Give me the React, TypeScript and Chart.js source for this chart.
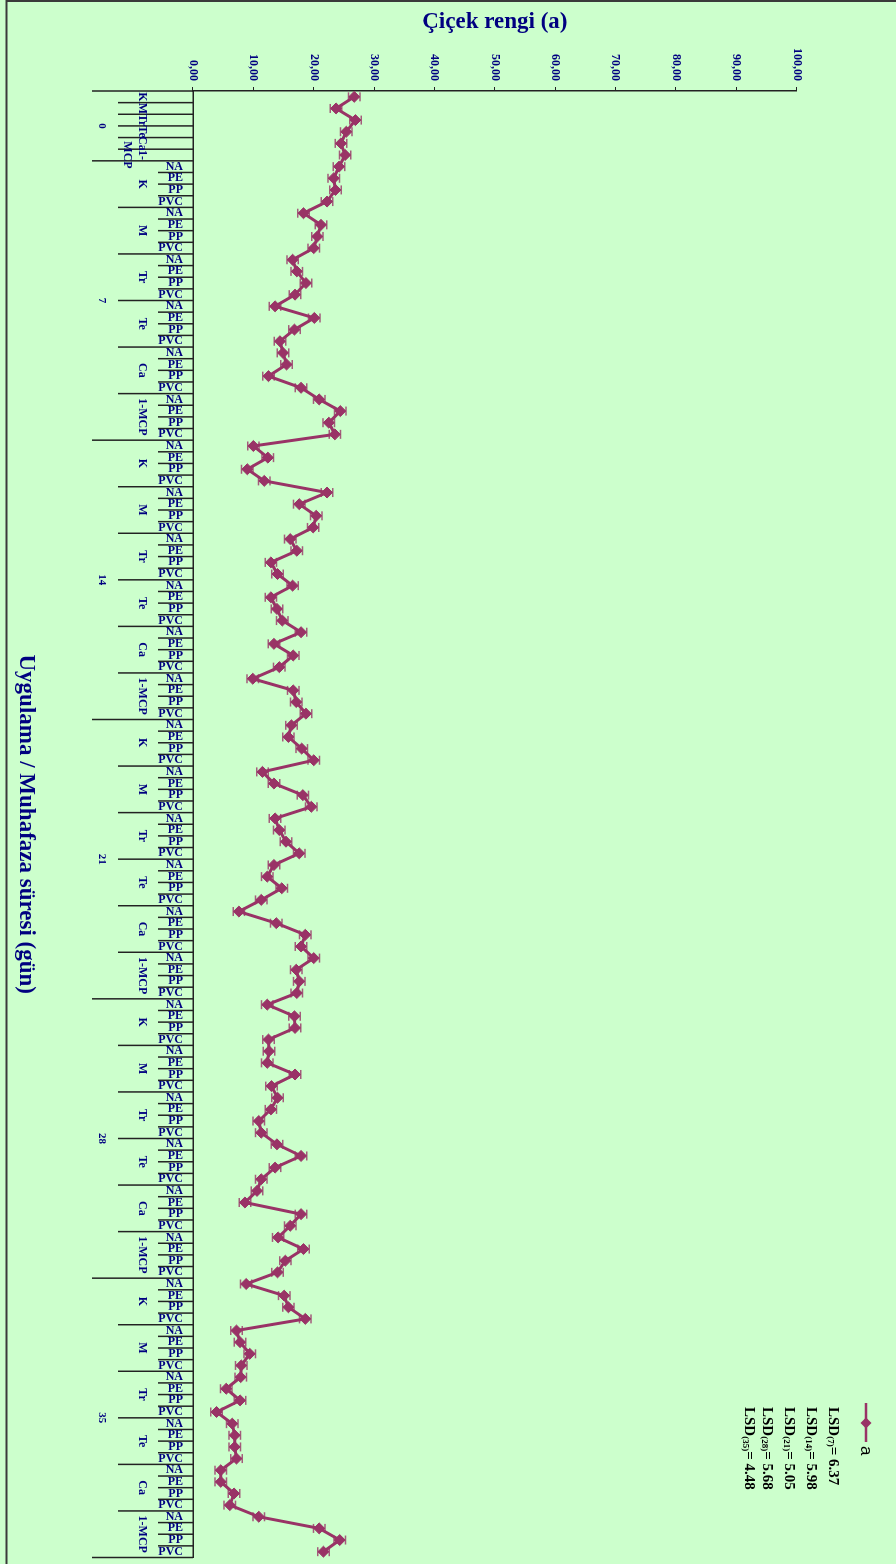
import { useEffect, useRef } from 'react';
import { Chart, registerables } from 'chart.js';

Chart.register(...registerables);

// Storage days, treatments and packaging types of the category axis
const storageDays = ['0', '7', '14', '21', '28', '35'];
const treatments = ['K', 'M', 'Tr', 'Te', 'Ca', '1-MCP'];
const packagings = ['NA', 'PE', 'PP', 'PVC'];

// Flower colour (a*) – day 0: one value per treatment
const day0 = [26.7, 23.7, 26.9, 25.4, 24.5, 25.2];
// Days 7–35: treatment × packaging (NA, PE, PP, PVC)
const day7 = [
  24.2, 23.3, 23.6, 22.2,
  18.3, 21.2, 20.6, 20.0,
  16.5, 17.2, 18.7, 16.9,
  13.6, 20.1, 16.8, 14.4,
  14.9, 15.5, 12.5, 17.9,
  20.9, 24.4, 22.5, 23.5,
];
const day14 = [
  10.0, 12.4, 9.0, 11.8,
  22.2, 17.6, 20.4, 19.9,
  16.1, 17.2, 12.9, 14.0,
  16.5, 12.9, 13.9, 14.8,
  17.9, 13.4, 16.6, 14.3,
  9.9, 16.6, 17.1, 18.7,
];
const day21 = [
  16.3, 15.8, 18.0, 20.0,
  11.5, 13.4, 18.2, 19.6,
  13.6, 14.3, 15.4, 17.6,
  13.4, 12.3, 14.7, 11.3,
  7.6, 13.8, 18.6, 17.9,
  20.0, 17.1, 17.6, 17.2,
];
const day28 = [
  12.3, 16.8, 16.9, 12.5,
  12.6, 12.3, 16.9, 13.0,
  14.0, 12.9, 10.9, 11.3,
  13.9, 17.9, 13.6, 11.3,
  10.6, 8.6, 17.9, 16.1,
  14.1, 18.3, 15.3, 14.0,
];
const day35 = [
  8.8, 15.1, 15.8, 18.6,
  7.2, 7.8, 9.4, 8.0,
  7.9, 5.5, 7.8, 3.9,
  6.5, 6.9, 6.9, 7.2,
  4.6, 4.6, 6.8, 6.1,
  10.9, 20.9, 24.3, 21.6,
];

// Half-width of the error bars (a* units)
const errorMargin = 0.95;

// LSD values per storage day
const lsdDays = ['(7)', '(14)', '(21)', '(28)', '(35)'];
const lsdValues = ['6.37', '5.98', '5.05', '5.68', '4.48'];

const seriesName = 'a';
const valueTitle = 'Çiçek rengi (a)';
const categoryTitle = 'Uygulama / Muhafaza süresi (gün)';

type Slot = { day: string; treatment: string; packaging: string | null };

const slots: Slot[] = [];
treatments.forEach((t) => slots.push({ day: storageDays[0], treatment: t, packaging: null }));
storageDays.slice(1).forEach((d) =>
  treatments.forEach((t) => packagings.forEach((p) => slots.push({ day: d, treatment: t, packaging: p })))
);
const values = [...day0, ...day7, ...day14, ...day21, ...day28, ...day35];
const labels = slots.map((s) => [s.day, s.treatment, s.packaging ?? ''].join(' ').trim());

const SERIF = "'Times New Roman', 'Liberation Serif', serif";
const NAVY = '#000080';
const LINE = '#993366';
const W = 1564;
const H = 896;

const axisPlugin = {
  id: 'multiLevelAxis',
  beforeDatasetsDraw(chart: any) {
    const { ctx } = chart;
    const x = chart.scales.x;
    const y = chart.scales.y;
    ctx.save();
    ctx.strokeStyle = 'rgba(153,51,102,0.8)';
    ctx.lineWidth = 1.5;
    values.forEach((v, i) => {
      const px = x.getPixelForValue(i);
      const y1 = y.getPixelForValue(v - errorMargin);
      const y2 = y.getPixelForValue(v + errorMargin);
      ctx.beginPath();
      ctx.moveTo(px, y1);
      ctx.lineTo(px, y2);
      ctx.moveTo(px - 4.5, y1);
      ctx.lineTo(px + 4.5, y1);
      ctx.moveTo(px - 4.5, y2);
      ctx.lineTo(px + 4.5, y2);
      ctx.stroke();
    });
    ctx.restore();
  },
  afterDraw(chart: any) {
    const { ctx, chartArea } = chart;
    const x = chart.scales.x;
    const n = slots.length;
    const half = (x.getPixelForValue(1) - x.getPixelForValue(0)) / 2;
    const edge = (b: number) => (b < n ? x.getPixelForValue(b) - half : x.getPixelForValue(n - 1) + half);
    const base = chartArea.bottom;

    ctx.save();
    // frame
    ctx.strokeStyle = '#3a3a3a';
    ctx.lineWidth = 2;
    ctx.beginPath();
    ctx.moveTo(1, 0);
    ctx.lineTo(1, 889.5);
    ctx.lineTo(W, 889.5);
    ctx.stroke();

    // category separators
    ctx.strokeStyle = '#222';
    ctx.lineWidth = 1.5;
    for (let b = 0; b <= n; b++) {
      let len = 35;
      if (b === 0 || b === n || slots[b - 1].day !== slots[b].day) len = 101;
      else if (slots[b - 1].treatment !== slots[b].treatment) len = 75;
      const ex = edge(b);
      ctx.beginPath();
      ctx.moveTo(ex, base);
      ctx.lineTo(ex, base + len);
      ctx.stroke();
    }

    ctx.fillStyle = NAVY;
    // packaging labels (rotated)
    ctx.font = `bold 12px ${SERIF}`;
    ctx.textBaseline = 'middle';
    slots.forEach((s, i) => {
      if (!s.packaging) return;
      ctx.save();
      ctx.translate(x.getPixelForValue(i), base + 10);
      ctx.rotate(-Math.PI / 2);
      ctx.textAlign = 'right';
      ctx.fillText(s.packaging, 0, 0);
      ctx.restore();
    });

    // treatment labels
    ctx.textAlign = 'center';
    let start = 0;
    for (let i = 1; i <= n; i++) {
      if (i === n || slots[i].day !== slots[start].day || slots[i].treatment !== slots[start].treatment) {
        const cx = (x.getPixelForValue(start) + x.getPixelForValue(i - 1)) / 2;
        const t = slots[start].treatment;
        if (i - start === 1 && t.includes('-')) {
          const k = t.indexOf('-') + 1;
          ctx.fillText(t.slice(0, k), cx, base + 50.5);
          ctx.fillText(t.slice(k), cx, base + 66);
        } else {
          ctx.fillText(t, cx, base + 50.5);
        }
        start = i;
      }
    }

    // storage day labels
    ctx.font = `bold 11px ${SERIF}`;
    start = 0;
    for (let i = 1; i <= n; i++) {
      if (i === n || slots[i].day !== slots[start].day) {
        const cx = (edge(start) + edge(i)) / 2;
        ctx.fillText(slots[start].day, cx, base + 91);
        start = i;
      }
    }

    // legend
    ctx.strokeStyle = LINE;
    ctx.fillStyle = LINE;
    ctx.lineWidth = 2.5;
    ctx.beginPath();
    ctx.moveTo(1403, 30);
    ctx.lineTo(1442, 30);
    ctx.stroke();
    ctx.beginPath();
    ctx.moveTo(1423 - 5.5, 30);
    ctx.lineTo(1423, 24.5);
    ctx.lineTo(1423 + 5.5, 30);
    ctx.lineTo(1423, 35.5);
    ctx.closePath();
    ctx.fill();
    ctx.fillStyle = '#000';
    ctx.font = `17px 'Liberation Sans', Arial, sans-serif`;
    ctx.textAlign = 'left';
    ctx.fillText(seriesName, 1446, 30);

    // LSD notes
    const rows = [62.7, 84.7, 106.8, 128.8, 147.2];
    lsdDays.forEach((d, k) => {
      let cx = 1407;
      const cy = rows[k];
      ctx.font = `bold 15px ${SERIF}`;
      ctx.fillText('LSD', cx, cy);
      cx += ctx.measureText('LSD').width;
      ctx.font = `bold 9px ${SERIF}`;
      ctx.fillText(d, cx, cy + 3);
      cx += ctx.measureText(d).width;
      ctx.font = `bold 15px ${SERIF}`;
      ctx.fillText('= ' + lsdValues[k], cx, cy);
    });
    ctx.restore();
  },
};

export default function App() {
  const canvasRef = useRef<HTMLCanvasElement>(null);

  useEffect(() => {
    const canvas = canvasRef.current;
    if (!canvas) return;
    const chart = new Chart(canvas, {
      type: 'line',
      data: {
        labels,
        datasets: [
          {
            label: seriesName,
            data: values,
            borderColor: LINE,
            backgroundColor: LINE,
            borderWidth: 3,
            pointStyle: 'rectRot',
            pointRadius: 5.5,
            pointBackgroundColor: LINE,
            pointBorderColor: LINE,
            pointBorderWidth: 1,
            tension: 0,
            fill: false,
          },
        ],
      },
      options: {
        responsive: false,
        maintainAspectRatio: false,
        devicePixelRatio: 1,
        animation: false,
        layout: { padding: { top: 99.3, right: 5.5, bottom: 0, left: 0 } },
        plugins: { legend: { display: false }, tooltip: { enabled: false } },
        scales: {
          x: {
            type: 'category',
            offset: true,
            grid: { display: false },
            border: { display: true, color: '#222', width: 1.5 },
            ticks: { display: false },
            title: {
              display: true,
              text: categoryTitle,
              color: NAVY,
              font: { family: SERIF, size: 23, weight: 'bold' },
              padding: { top: 0, bottom: 12 },
            },
            afterFit: (scale: any) => {
              scale.height = 193;
            },
          },
          y: {
            type: 'linear',
            min: 0,
            max: 100,
            grid: { display: true, drawOnChartArea: false, drawTicks: true, tickLength: 4, color: '#222' },
            border: { display: true, color: '#222', width: 1.5 },
            ticks: {
              stepSize: 10,
              padding: 6,
              color: NAVY,
              font: { family: SERIF, size: 12, weight: 'bold' },
              callback: (v: any) => Number(v).toFixed(2).replace('.', ','),
            },
            title: {
              display: true,
              text: valueTitle,
              color: NAVY,
              font: { family: SERIF, size: 23, weight: 'bold' },
              padding: { top: 8, bottom: 0 },
            },
            afterFit: (scale: any) => {
              scale.width = 91;
            },
          },
        },
      },
      plugins: [axisPlugin],
    });
    return () => chart.destroy();
  }, []);

  return (
    <div
      style={{
        position: 'absolute',
        left: 0,
        top: 0,
        width: H,
        height: W,
        overflow: 'hidden',
        background: '#CCFFCC',
      }}
    >
      <div
        style={{
          position: 'absolute',
          left: 0,
          top: 0,
          width: W,
          height: H,
          transformOrigin: '0 0',
          transform: `translate(${H}px, 0) rotate(90deg)`,
        }}
      >
        <canvas ref={canvasRef} width={W} height={H} style={{ display: 'block', width: W, height: H }} />
      </div>
    </div>
  );
}
